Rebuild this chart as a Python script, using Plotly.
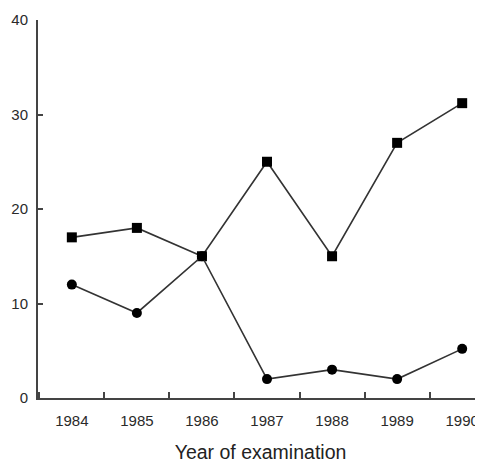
import plotly.graph_objects as go

years = [1984, 1985, 1986, 1987, 1988, 1989, 1990]
squares = [17, 18, 15, 25, 15, 27, 31.2]
circles = [12, 9, 15, 2, 3, 2, 5.2]
year_labels = [str(y) for y in years]

line_col = "#333333"
fig = go.Figure()
fig.add_trace(go.Scatter(x=years, y=squares, mode="lines+markers",
                         line=dict(color=line_col, width=1.6),
                         marker=dict(symbol="square", size=10, color="black"),
                         showlegend=False))
fig.add_trace(go.Scatter(x=years, y=circles, mode="lines+markers",
                         line=dict(color=line_col, width=1.6),
                         marker=dict(symbol="circle", size=10, color="black"),
                         showlegend=False))

# page body has an 8px margin, so the figure is offset by (8, 8)
fig.update_layout(
    width=475, height=455,
    margin=dict(l=30, r=0, t=12, b=65),
    paper_bgcolor="white", plot_bgcolor="white",
    font=dict(family="Liberation Sans, Arial, sans-serif", color="#333333"),
)
fig.update_xaxes(
    range=[1983.48, 1990.32],
    tickmode="array", tickvals=years, ticktext=year_labels,
    ticks="", ticklabelstandoff=8,
    tickfont=dict(size=15, color="#2a2a2a"),
    showline=True, linecolor="#444444", linewidth=2,
    showgrid=False, zeroline=False,
    minor=dict(tickmode="linear", tick0=1984.5, dtick=1, ticks="inside",
               ticklen=6, tickcolor="#444444", tickwidth=1.5, showgrid=False),
    title=dict(text="Year of examination", font=dict(size=19.5, color="#222222"), standoff=19),
)
fig.update_yaxes(
    range=[0, 40],
    tickmode="array", tickvals=[0, 10, 20, 30, 40],
    ticks="inside", ticklen=5, tickcolor="#444444", tickwidth=1.5,
    ticklabelstandoff=5,
    tickfont=dict(size=15, color="#2a2a2a"),
    showline=True, linecolor="#444444", linewidth=2,
    showgrid=False, zeroline=False,
)

fig.write_html("out.html")
